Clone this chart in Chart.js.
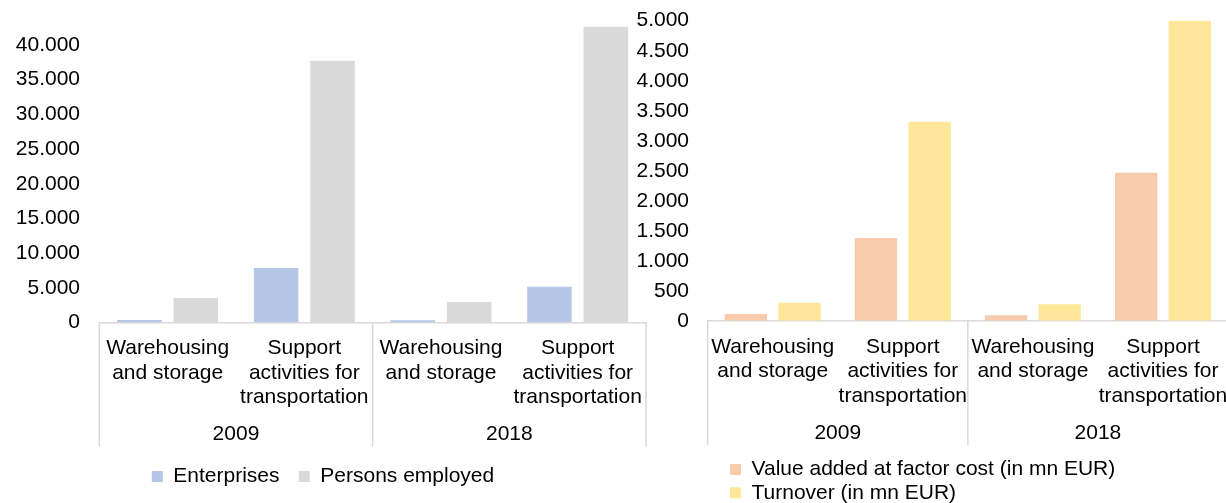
<!DOCTYPE html>
<html>
<head>
<meta charset="utf-8">
<script src="https://cdn.jsdelivr.net/npm/chart.js"></script>
<style>
  html, body { margin: 0; padding: 0; background: #fff; }
  body { width: 1226px; height: 503px; overflow: hidden; position: relative; }
  canvas { position: absolute; top: 0; }
  #leftChart { left: 0; }
  #rightChart { left: 620px; }
</style>
</head>
<body>
<canvas id="leftChart" width="650" height="503"></canvas>
<canvas id="rightChart" width="610" height="520"></canvas>
<script>
// categories
const years = ["2009", "2018"];
const activities = [
    ["Warehousing", "and storage"],
    ["Support", "activities for", "transportation"]
];

// values, order: [warehousing 2009, support 2009, warehousing 2018, support 2018]
const enterprises = [350, 7860, 330, 5160];
const personsEmployed = [3530, 37740, 2950, 42640];
const valueAdded = [117, 1382, 95, 2470];
const turnover = [305, 3318, 278, 4995];

const FONT = "'Liberation Sans', Arial, sans-serif";
Chart.defaults.font.family = FONT;
Chart.defaults.font.size = 21;
Chart.defaults.color = "#000";

const fmt = v => String(v).replace(/\B(?=(\d{3})+(?!\d))/g, ".");

// vertical separators of the two-level category axis
const groupDividers = {
    id: "groupDividers",
    afterDraw(chart, args, opts) {
        const { ctx, chartArea, scales } = chart;
        const x = scales.x;
        const per = activities.length;
        const xs = [chartArea.left];
        for (let g = 1; g < years.length; g++) {
            xs.push((x.getPixelForValue(g * per - 1) + x.getPixelForValue(g * per)) / 2);
        }
        xs.push(chartArea.right);
        const y0 = chartArea.bottom;
        const y1 = scales.x2.top + opts.depth;
        ctx.save();
        ctx.strokeStyle = "#d9d9d9";
        ctx.lineWidth = 1.5;
        xs.forEach(px => {
            ctx.beginPath();
            ctx.moveTo(px, y0);
            ctx.lineTo(px, y1);
            ctx.stroke();
        });
        ctx.restore();
    }
};

// lets a start-aligned legend sit at a given x
const legendShift = {
    id: "legendShift",
    afterLayout(chart, args, opts) {
        if (opts.x != null && chart.legend) chart.legend.left = opts.x;
    }
};

function makeChart(id, sets, cfg) {
    const labels = years.flatMap(() => activities);
    return new Chart(document.getElementById(id), {
        type: "bar",
        data: {
            labels: labels,
            datasets: sets.map(s => ({
                label: s.label,
                data: s.data,
                backgroundColor: s.color,
                borderWidth: 0,
                categoryPercentage: 0.825,
                barPercentage: 0.79
            }))
        },
        plugins: [groupDividers, legendShift],
        options: {
            responsive: false,
            animation: false,
            layout: { padding: cfg.padding },
            scales: {
                x: {
                    grid: { display: true, drawOnChartArea: false, drawTicks: true, tickLength: 13.5, color: "transparent" },
                    border: { display: true, color: "#d9d9d9", width: 1.5 },
                    ticks: { padding: 0, maxRotation: 0, autoSkip: false, font: { size: 21, lineHeight: 1.1667 } }
                },
                x2: {
                    type: "category",
                    labels: years,
                    position: "bottom",
                    offset: true,
                    grid: { display: true, drawOnChartArea: false, drawTicks: true, tickLength: 12.75, color: "transparent" },
                    border: { display: false },
                    ticks: { padding: 0, maxRotation: 0, font: { size: 21, lineHeight: 1.1667 } },
                    afterFit: s => { s.height += cfg.gap; }
                },
                y: {
                    beginAtZero: true,
                    max: cfg.max,
                    grid: { display: true, drawOnChartArea: false, drawTicks: true, tickLength: cfg.tickGap, color: "transparent" },
                    border: { display: false },
                    ticks: { padding: 0, stepSize: cfg.step, includeBounds: false, callback: v => fmt(v) },
                    afterFit: s => { s.width = cfg.yWidth; }
                }
            },
            plugins: {
                legend: {
                    position: "bottom",
                    align: cfg.legendAlign,
                    fullSize: cfg.legendFull,
                    labels: { boxWidth: 11, boxHeight: 11, padding: cfg.legendPad, font: { size: 21 } }
                },
                tooltip: { enabled: false },
                groupDividers: { depth: 37.25 },
                legendShift: { x: cfg.legendX }
            }
        }
    });
}

makeChart("leftChart", [
    { label: "Enterprises", data: enterprises, color: "#b4c7e7" },
    { label: "Persons employed", data: personsEmployed, color: "#d9d9d9" }
], {
    padding: { top: 24.2, right: 4, bottom: 6, left: 0 },
    max: 43000, step: 5000, yWidth: 99.3, tickGap: 19.3,
    gap: 0, legendAlign: "center", legendFull: true, legendPad: 19.25, legendX: null
});

makeChart("rightChart", [
    { label: "Value added at factor cost (in mn EUR)", data: valueAdded, color: "#f8cbad" },
    { label: "Turnover (in mn EUR)", data: turnover, color: "#ffe699" }
], {
    padding: { top: 20.7, right: 2, bottom: 6.7, left: 0 },
    max: 5000, step: 500, yWidth: 87.7, tickGap: 18.7,
    gap: 11.45, legendAlign: "start", legendFull: false, legendPad: 2.3, legendX: 107.7
});
</script>
</body>
</html>
